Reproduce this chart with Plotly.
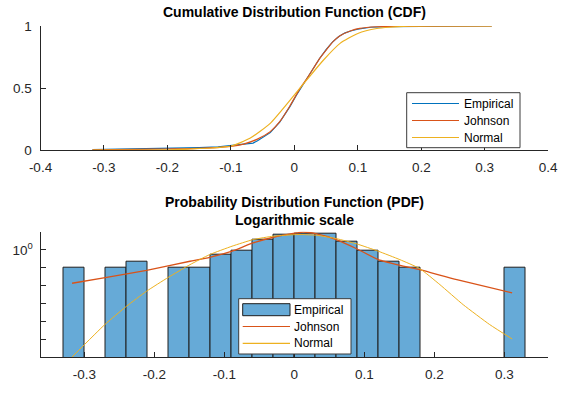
import plotly.graph_objects as go

FONT = "Liberation Sans, Arial, Helvetica, sans-serif"
AX = "#262626"
C_EMP = "#0072BD"
C_JOHN = "#D95319"
C_NORM = "#EDB120"
C_BAR = "rgb(102,170,215)"
C_EDGE = "#1e1e1e"

# ---------------- CDF panel data ----------------
emp_x = [-0.318, -0.27, -0.24, -0.20, -0.15, -0.12, -0.10, -0.085, -0.065, -0.058,
         -0.050, -0.038, -0.023, -0.007, 0.003, 0.009, 0.020, 0.030, 0.040, 0.050,
         0.060, 0.070, 0.080, 0.090, 0.100, 0.120, 0.150, 0.200, 0.311]
emp_F = [0.003, 0.006, 0.013, 0.016, 0.019, 0.025, 0.035, 0.045, 0.056, 0.075,
         0.100, 0.140, 0.225, 0.350, 0.440, 0.490, 0.575, 0.665, 0.740, 0.810,
         0.870, 0.915, 0.945, 0.962, 0.975, 0.990, 0.995, 0.997, 1.000]

john_x = [-0.318, -0.25, -0.20, -0.164, -0.10, -0.080, -0.059, -0.038, -0.023, -0.007,
          0.009, 0.019, 0.030, 0.040, 0.051, 0.061, 0.072, 0.088, 0.103, 0.130,
          0.151, 0.200, 0.311]
john_F = [0.002, 0.005, 0.008, 0.011, 0.030, 0.048, 0.086, 0.148, 0.228, 0.355,
          0.497, 0.570, 0.659, 0.739, 0.812, 0.874, 0.922, 0.960, 0.981, 0.994,
          0.996, 0.998, 1.000]

norm_x = [-0.318, -0.20, -0.164, -0.13, -0.10, -0.07, -0.038, -0.007, 0.0195, 0.046,
          0.072, 0.100, 0.130, 0.150, 0.180, 0.220, 0.311]
norm_F = [0.000, 0.001, 0.008, 0.016, 0.032, 0.094, 0.215, 0.400, 0.565, 0.726,
          0.860, 0.940, 0.980, 0.990, 0.998, 1.000, 1.000]

# ---------------- PDF panel data ----------------
bin_width = 0.03
bin_left = [-0.33, -0.27, -0.24, -0.18, -0.15, -0.12, -0.09, -0.06, -0.03, 0.00,
            0.03, 0.06, 0.09, 0.12, 0.15, 0.30]
bin_count = [1, 1, 2, 1, 1, 5, 8, 37, 64, 79, 73, 27, 8, 2, 1, 1]

pdf_john_x = [-0.3174, -0.268, -0.211, -0.149, -0.121, -0.090, -0.059, -0.030, 0.003,
              0.0126, 0.032, 0.060, 0.089, 0.120, 0.151, 0.179, 0.232, 0.311]
pdf_john_y = [0.0138, 0.0295, 0.0724, 0.234, 0.389, 0.841, 2.45, 5.13, 8.91,
              10.1, 7.83, 3.80, 1.17, 0.288, 0.138, 0.0794, 0.0219, 0.00398]

pdf_norm_x = [-0.3174, -0.2707, -0.2398, -0.2112, -0.180, -0.149, -0.121, -0.089,
              -0.0588, -0.030, 0.003, 0.0126, 0.0317, 0.0603, 0.0889, 0.1198, 0.1507,
              0.179, 0.2079, 0.2412, 0.279, 0.311]
pdf_norm_y = [1.05e-6, 6.76e-5, 7.08e-4, 4.90e-3, 0.0295, 0.151, 0.55, 1.62,
              3.80, 5.89, 7.24, 7.24, 6.61, 4.27, 2.19, 0.851, 0.288,
              0.0912, 0.0115, 8.7e-4, 6.76e-5, 1.07e-5]

legend_labels = ["Empirical", "Johnson", "Normal"]

n_samples = sum(bin_count)
density = [c / (n_samples * bin_width) for c in bin_count]
bin_center = [b + bin_width / 2 for b in bin_left]

fig = go.Figure()

# CDF curves
fig.add_trace(go.Scatter(x=emp_x, y=emp_F, mode="lines", name=legend_labels[0],
                         line=dict(color=C_EMP, width=1.2), xaxis="x", yaxis="y"))
fig.add_trace(go.Scatter(x=john_x, y=john_F, mode="lines", name=legend_labels[1],
                         line=dict(color=C_JOHN, width=1.2, shape="spline", smoothing=0.6),
                         xaxis="x", yaxis="y"))
fig.add_trace(go.Scatter(x=norm_x, y=norm_F, mode="lines", name=legend_labels[2],
                         line=dict(color=C_NORM, width=1.2, shape="spline", smoothing=0.6),
                         xaxis="x", yaxis="y"))

# PDF histogram and fitted densities
fig.add_trace(go.Bar(x=bin_center, y=density, width=bin_width, name=legend_labels[0],
                     marker=dict(color=C_BAR, line=dict(color=C_EDGE, width=1)),
                     xaxis="x2", yaxis="y2"))
fig.add_trace(go.Scatter(x=pdf_john_x, y=pdf_john_y, mode="lines", name=legend_labels[1],
                         line=dict(color=C_JOHN, width=1.3, shape="spline", smoothing=0.5),
                         xaxis="x2", yaxis="y2"))
fig.add_trace(go.Scatter(x=pdf_norm_x, y=pdf_norm_y, mode="lines", name=legend_labels[2],
                         line=dict(color=C_NORM, width=1.0, shape="spline", smoothing=0.5),
                         xaxis="x2", yaxis="y2"))

W, H = 566, 394
x_dom = [40.5 / W, 548.2 / W]


def px(x):
    return x / W


def py(y):
    return 1 - y / H


axis_common = dict(showline=True, linecolor=AX, linewidth=1, ticks="inside",
                   ticklen=5, tickcolor=AX, tickwidth=1, showgrid=False,
                   zeroline=False, mirror=False, automargin=False,
                   tickfont=dict(family=FONT, size=13.5, color=AX))

fig.update_layout(
    width=W, height=H,
    margin=dict(l=0, r=0, t=0, b=0, pad=0, autoexpand=False),
    paper_bgcolor="white", plot_bgcolor="white",
    bargap=0, barmode="overlay", showlegend=False,
    xaxis=dict(domain=x_dom, anchor="y", range=[-0.4, 0.4],
               tickvals=[-0.4, -0.3, -0.2, -0.1, 0, 0.1, 0.2, 0.3, 0.4],
               ticktext=["-0.4", "-0.3", "-0.2", "-0.1", "0", "0.1", "0.2", "0.3", "0.4"],
               ticklabelstandoff=5, **axis_common),
    yaxis=dict(domain=[py(150), py(26)], anchor="x", range=[0, 1],
               tickvals=[0, 0.5, 1], ticktext=["0", "0.5", "1"],
               ticklabelstandoff=5, **axis_common),
    xaxis2=dict(domain=x_dom, anchor="y2", range=[-0.3625, 0.3625],
                tickvals=[-0.3, -0.2, -0.1, 0, 0.1, 0.2, 0.3],
                ticktext=["-0.3", "-0.2", "-0.1", "0", "0.1", "0.2", "0.3"],
                ticklabelstandoff=5, **axis_common),
    yaxis2=dict(domain=[py(357), py(231.7)], anchor="x2", type="log",
                range=[-5.98, 1.02],
                tickvals=[1], ticktext=["10<sup>0</sup>"],
                minor=dict(tickvals=[1e-5, 1e-4, 1e-3, 1e-2, 1e-1], ticks="inside",
                           ticklen=5, tickcolor=AX, tickwidth=1, showgrid=False),
                ticklabelstandoff=4, **axis_common),
)

# Titles
title_font = dict(family=FONT, size=14, color="black")
for txt, yy in [("<b>Cumulative Distribution Function (CDF)</b>", 12),
                ("<b>Probability Distribution Function (PDF)</b>", 202),
                ("<b>Logarithmic scale</b>", 220)]:
    fig.add_annotation(text=txt, x=px(294.3), y=py(yy), xref="paper", yref="paper",
                       showarrow=False, xanchor="center", yanchor="middle",
                       font=title_font)

# Legend boxes
leg_font = dict(family=FONT, size=12, color="black")


def add_legend(box, rows, line_x0, line_x1, text_x, kinds):
    x0, y0, x1, y1 = box
    fig.add_shape(type="rect", xref="paper", yref="paper",
                  x0=px(x0), x1=px(x1), y0=py(y1), y1=py(y0),
                  fillcolor="white", line=dict(color="#3a3a3a", width=1), layer="above")
    for (label, color, kind), yy in zip(kinds, rows):
        if kind == "patch":
            fig.add_shape(type="rect", xref="paper", yref="paper",
                          x0=px(line_x0), x1=px(line_x1), y0=py(yy + 6), y1=py(yy - 6),
                          fillcolor=C_BAR, line=dict(color=C_EDGE, width=1), layer="above")
        else:
            fig.add_shape(type="line", xref="paper", yref="paper",
                          x0=px(line_x0), x1=px(line_x1), y0=py(yy), y1=py(yy),
                          line=dict(color=color, width=1.2), layer="above")
        fig.add_annotation(text=label, x=px(text_x), y=py(yy), xref="paper", yref="paper",
                           showarrow=False, xanchor="left", yanchor="middle",
                           font=leg_font)


add_legend((406.7, 92.7, 520, 147.7), [103.5, 120.5, 137.5], 412, 459, 461.5,
           [(legend_labels[0], C_EMP, "line"), (legend_labels[1], C_JOHN, "line"),
            (legend_labels[2], C_NORM, "line")])
add_legend((238.7, 298.7, 351, 354), [309.7, 326.5, 343.3], 242.7, 290, 292,
           [(legend_labels[0], C_EMP, "patch"), (legend_labels[1], C_JOHN, "line"),
            (legend_labels[2], C_NORM, "line")])

fig.write_html("out.html")
